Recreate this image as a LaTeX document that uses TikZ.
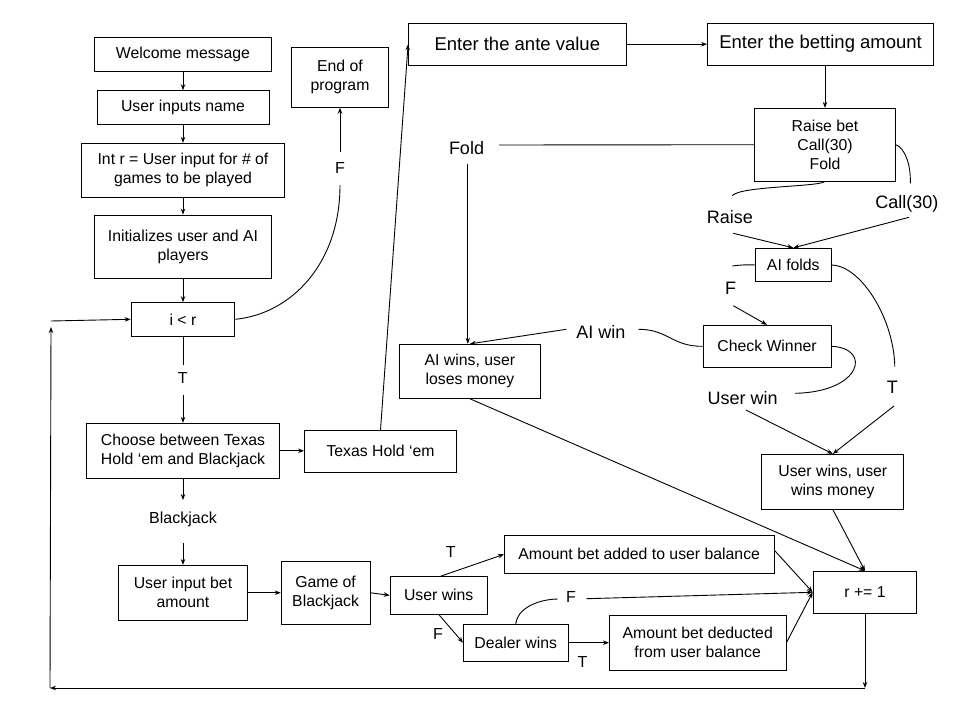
\documentclass[tikz,border=0pt]{standalone}
\usepackage{fontspec}
\setmainfont{Liberation Sans}
\usetikzlibrary{arrows.meta}
\begin{document}
\begin{tikzpicture}[x=1pt,y=-1pt,
  line width=0.9pt,
  >={Stealth[length=6pt,width=4.5pt]},
  sz/.style 2 args={minimum width=#1,minimum height=#2},
  box/.style={draw,line width=0.9pt,align=center,inner sep=0pt,font=\fontsize{15.8}{19}\selectfont},
  bigbox/.style={box,font=\fontsize{18.5}{22}\selectfont},
  lbl/.style={inner sep=0pt,font=\fontsize{18}{22}\selectfont},
  slbl/.style={inner sep=0pt,font=\fontsize{16}{19}\selectfont}]
\useasboundingbox (0,0) rectangle (960,720);

% boxes
\node[box,sz={176.7pt}{34.4pt}] (welcome) at (183,54.5) {Welcome message};
\node[box,sz={172pt}{33.3pt}] (uname) at (183,107.3) {User inputs name};
\node[box,sz={202.6pt}{54pt}] (intr) at (183,170.3) {Int r = User input for \# of\\games to be played};
\node[box,sz={176.7pt}{63.3pt}] (init) at (183,246.7) {Initializes user and AI\\players};
\node[box,sz={103.8pt}{33.5pt}] (ilr) at (183,319.3) {i {<} r};
\node[box,sz={97.3pt}{60pt}] (endp) at (340,77.3) {End of\\program};
\node[box,sz={193pt}{55pt}] (choose) at (183,450.8) {Choose between Texas\\Hold ‘em and Blackjack};
\node[box,sz={152pt}{41.7pt}] (texas) at (380.5,451.3) {Texas Hold ‘em};
\node[box,sz={128.7pt}{54.7pt}] (ubet) at (183,592.7) {User input bet\\amount};
\node[box,sz={88.8pt}{62.3pt}] (game) at (325.6,592.8) {Game of\\Blackjack};
\node[box,sz={96.9pt}{37.3pt}] (uwins) at (438.7,595.3) {User wins};
\node[box,sz={269.5pt}{38pt}] (added) at (639.2,554.3) {Amount bet added to user balance};
\node[box,sz={104.5pt}{36.7pt}] (dealer) at (515.7,642.7) {Dealer wins};
\node[box,sz={176.5pt}{54.7pt}] (deducted) at (697.7,642.7) {Amount bet deducted\\from user balance};
\node[box,sz={103.8pt}{42pt}] (rplus) at (865,592.3) {r += 1};
\node[box,sz={141.9pt}{54.7pt}] (uwm) at (832.8,481.7) {User wins, user\\wins money};
\node[box,sz={141.2pt}{54pt}] (aiwins) at (469.9,371.3) {AI wins, user\\loses money};
\node[box,sz={128pt}{42pt}] (check) at (767,346.3) {Check Winner};
\node[box,sz={75.7pt}{33.4pt}] (aifolds) at (793.3,265) {AI folds};
\node[box,sz={140.5pt}{72.7pt}] (raisebet) at (825,144.7) {Raise bet\\Call(30)\\Fold};
\node[bigbox,sz={217.5pt}{41.7pt}] (ante) at (517.3,44.2) {Enter the ante value};
\node[bigbox,sz={226pt}{41.7pt}] (betting) at (820.6,44.2) {Enter the betting amount};

% labels
\node[lbl] (fold) at (466.5,148.3) {Fold};
\node[lbl] (raise) at (729.9,216.7) {Raise};
\node[lbl] (call) at (906.9,204) {Call(30)};
\node[lbl] (fF) at (730.6,288.3) {F};
\node[lbl] (aiwin) at (600.8,332.3) {AI win};
\node[lbl] (tT) at (892.4,387.3) {T};
\node[lbl] (uwin) at (742.6,397.7) {User win};
\node[slbl] (t1) at (182.7,378.3) {T};
\node[slbl] (fE) at (340,168.3) {F};
\node[slbl] (bj) at (183,519.5) {Blackjack};
\node[slbl] (tA) at (450.8,551.7) {T};
\node[slbl] (fU) at (438,634.3) {F};
\node[slbl] (fD) at (571,596.7) {F};
\node[slbl] (tD) at (582.4,661.7) {T};

% free ends
\coordinate (t1a) at (183,365);
\coordinate (t1b) at (183,395);
\coordinate (fEa) at (340,185);
\coordinate (fEb) at (340,152);
\coordinate (foldE) at (499,145);
\coordinate (foldS) at (467.8,163.5);
\coordinate (raiseN) at (732.3,195.7);
\coordinate (callN) at (910.3,183.3);
\coordinate (raiseS) at (733.3,233.3);
\coordinate (callS) at (909,217.3);
\coordinate (fW) at (732.3,266);
\coordinate (fS) at (733.3,305.7);
\coordinate (tN) at (894.8,366.7);
\coordinate (tS) at (894,406);
\coordinate (uwS) at (746,410);
\coordinate (uwE) at (795,393.3);
\coordinate (aiwE) at (638.6,329.3);
\coordinate (aiwW) at (566.3,329.3);
\coordinate (dF) at (557.6,599);
\coordinate (dF2) at (586.5,598.7);
\coordinate (bjN) at (183,500);
\coordinate (bjS) at (183,543);
\coordinate (b1) at (865,688);
\coordinate (b2) at (50,688);
\coordinate (b3) at (51,327);
\coordinate (b4) at (51,321);

% left column
\draw[->] (welcome) -- (uname);
\draw[->] (uname) -- (intr);
\draw[->] (intr) -- (init);
\draw[->] (init) -- (ilr);
\draw (ilr.south) -- (t1a);
\draw[->] (t1b) -- (choose.north);
\draw (ilr.east) .. controls (290,314) and (340,265) .. (fEa);
\draw[->] (fEb) -- (endp.south);
\draw[->] (choose.east) -- (choose.east -| texas.west);
\draw[->] (texas.north) -- (ante.west);
\draw[->] (ante) -- (betting);
\draw[->] (betting.south -| raisebet.north) -- (raisebet.north);

% poker part
\draw (raisebet.west) -- (foldE);
\draw[->] (foldS) -- (foldS |- aiwins.north);
\draw (raisebet.south) .. controls (818,187) and (740,186) .. (raiseN);
\draw (raisebet.east) .. controls (905,148) and (911,165) .. (callN);
\draw[->] (raiseS) -- (aifolds.north);
\draw[->] (callS) -- (aifolds.north);
\draw (aifolds.west) .. controls (746,264.5) and (740,265) .. (fW);
\draw[->] (fS) -- (check.north);
\draw (aifolds.east) .. controls (862,266) and (894,320) .. (tN);
\draw[->] (tS) -- (uwm.north);
\draw[->] (uwS) -- (uwm.north);
\draw (check.east) .. controls (872,348) and (862,392) .. (uwE);
\draw (check.west) .. controls (672,346.5) and (668,329.3) .. (aiwE);
\draw[->] (aiwW) -- (aiwins.north);
\draw[->] (aiwins.south) -- (rplus.north);
\draw[->] (uwm.south) -- (rplus.north);

% blackjack part
\draw[->] (choose.south) -- (bjN);
\draw[->] (bjS) -- (ubet.north);
\draw[->] (ubet.east) -- (ubet.east -| game.west);
\draw[->] (game.east) -- (uwins.west);
\draw[->] ([xshift=2pt]uwins.north) -- (added.west);
\draw[->] (uwins.south) -- (dealer.west);
\draw[->] (dealer.east) -- (dealer.east -| deducted.west);
\draw (dealer.north) .. controls (517,610) and (535,599.5) .. (dF);
\draw[->] (dF2) -- (rplus.west);
\draw[->] ([yshift=4pt]added.east) -- (rplus.west);
\draw[->] (deducted.east) -- (rplus.west);

% loop back
\draw[->] (rplus.south) -- (b1);
\draw[->] (b1) -- (b2);
\draw[->] (b2) -- (b3);
\draw[->] (b4) -- (ilr.west);
\end{tikzpicture}
\end{document}
